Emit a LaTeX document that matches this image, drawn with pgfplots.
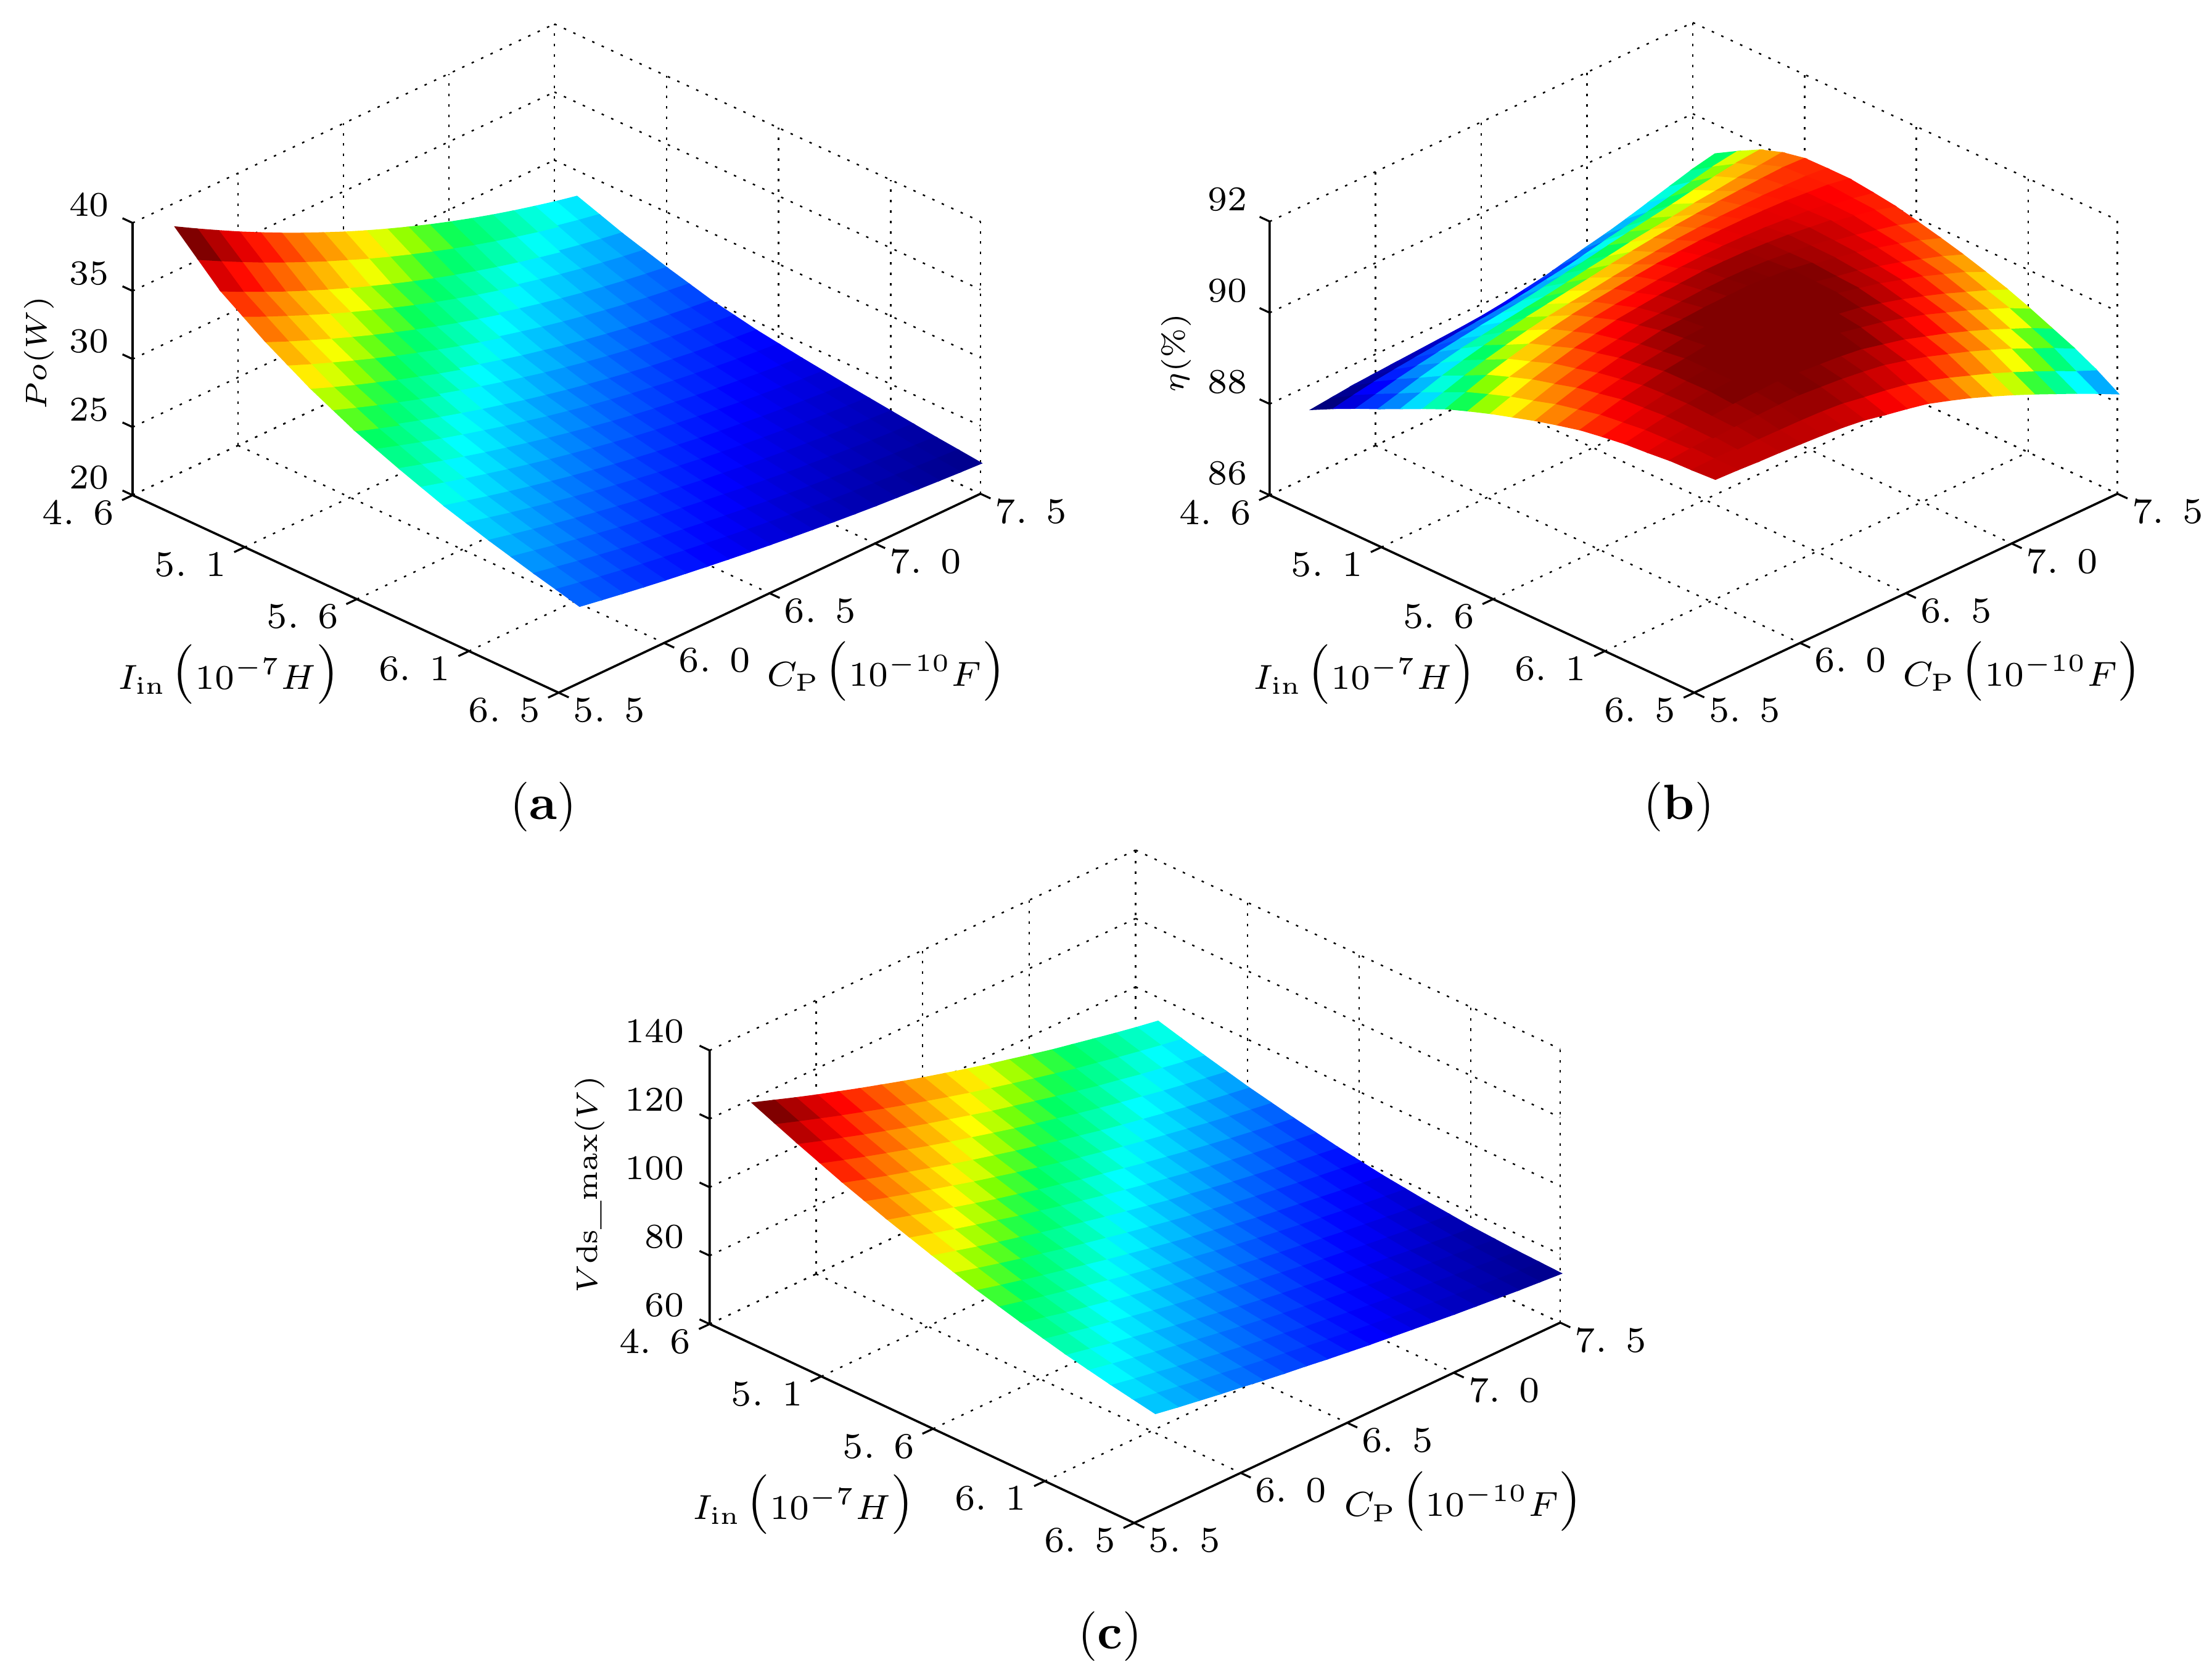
\documentclass[border=0pt]{standalone}
\usepackage{pgfplots}
\usepackage{pgfplotstable}
\pgfplotsset{compat=1.18}

\pgfplotstableread{
I C Po Eta Vds
4.7 5.6 39.70 87.90 124.7
4.7 5.7 38.82 87.95 122.5
4.7 5.8 37.97 88.00 120.3
4.7 5.9 37.14 88.03 118.2
4.7 6.0 36.35 88.06 116.2
4.7 6.1 35.59 88.09 114.2
4.7 6.2 34.86 88.12 112.3
4.7 6.3 34.16 88.15 110.4
4.7 6.4 33.48 88.19 108.6
4.7 6.5 32.84 88.25 106.9
4.7 6.6 32.23 88.33 105.2
4.7 6.7 31.65 88.41 103.6
4.7 6.8 31.09 88.52 102.1
4.7 6.9 30.57 88.63 100.6
4.7 7.0 30.08 88.73 99.1
4.7 7.1 29.62 88.85 97.8
4.7 7.2 29.19 88.98 96.5
4.7 7.3 28.79 89.11 95.2
4.7 7.4 28.41 89.24 94.0
4.7 7.5 28.07 89.34 92.9
4.8 5.6 38.15 88.15 121.95
4.8 5.7 37.33 88.24 119.8
4.8 5.8 36.54 88.32 117.7
4.8 5.9 35.77 88.38 115.65
4.8 6.0 35.04 88.43 113.7
4.8 6.1 34.34 88.48 111.75
4.8 6.2 33.66 88.53 109.9
4.8 6.3 33.02 88.58 108.1
4.8 6.4 32.39 88.63 106.35
4.8 6.5 31.80 88.70 104.65
4.8 6.6 31.24 88.78 103.05
4.8 6.7 30.71 88.85 101.5
4.8 6.8 30.20 88.95 100.0
4.8 6.9 29.73 89.05 98.55
4.8 7.0 29.28 89.14 97.1
4.8 7.1 28.87 89.24 95.85
4.8 7.2 28.48 89.34 94.55
4.8 7.3 28.12 89.45 93.35
4.8 7.4 27.79 89.55 92.2
4.8 7.5 27.49 89.62 91.1
4.9 5.6 36.60 88.38 119.2
4.9 5.7 35.84 88.49 117.1
4.9 5.8 35.11 88.60 115.1
4.9 5.9 34.40 88.69 113.1
4.9 6.0 33.73 88.77 111.2
4.9 6.1 33.08 88.84 109.3
4.9 6.2 32.46 88.91 107.5
4.9 6.3 31.87 88.97 105.8
4.9 6.4 31.30 89.03 104.1
4.9 6.5 30.76 89.11 102.4
4.9 6.6 30.24 89.19 100.9
4.9 6.7 29.76 89.27 99.4
4.9 6.8 29.31 89.36 97.9
4.9 6.9 28.88 89.44 96.5
4.9 7.0 28.48 89.52 95.1
4.9 7.1 28.11 89.60 93.9
4.9 7.2 27.76 89.69 92.6
4.9 7.3 27.45 89.77 91.5
4.9 7.4 27.16 89.84 90.4
4.9 7.5 26.90 89.88 89.3
5.0 5.6 35.50 88.60 116.6
5.0 5.7 34.78 88.73 114.55
5.0 5.8 34.10 88.86 112.6
5.0 5.9 33.43 88.97 110.7
5.0 6.0 32.79 89.07 108.85
5.0 6.1 32.18 89.14 107.0
5.0 6.2 31.60 89.22 105.25
5.0 6.3 31.04 89.29 103.6
5.0 6.4 30.50 89.35 101.95
5.0 6.5 29.99 89.43 100.35
5.0 6.6 29.51 89.51 98.85
5.0 6.7 29.06 89.58 97.4
5.0 6.8 28.64 89.66 95.95
5.0 6.9 28.24 89.72 94.6
5.0 7.0 27.87 89.78 93.3
5.0 7.1 27.52 89.85 92.1
5.0 7.2 27.20 89.90 90.85
5.0 7.3 26.91 89.96 89.75
5.0 7.4 26.64 90.00 88.7
5.0 7.5 26.40 90.05 87.65
5.1 5.6 34.40 88.83 114.0
5.1 5.7 33.72 88.98 112.0
5.1 5.8 33.08 89.13 110.1
5.1 5.9 32.45 89.25 108.3
5.1 6.0 31.85 89.36 106.5
5.1 6.1 31.27 89.45 104.7
5.1 6.2 30.73 89.54 103.0
5.1 6.3 30.20 89.61 101.4
5.1 6.4 29.70 89.68 99.8
5.1 6.5 29.22 89.75 98.3
5.1 6.6 28.78 89.83 96.8
5.1 6.7 28.36 89.90 95.4
5.1 6.8 27.96 89.96 94.0
5.1 6.9 27.59 90.01 92.7
5.1 7.0 27.25 90.05 91.5
5.1 7.1 26.93 90.09 90.3
5.1 7.2 26.63 90.12 89.1
5.1 7.3 26.36 90.15 88.0
5.1 7.4 26.12 90.17 87.0
5.1 7.5 25.90 90.15 86.0
5.2 5.6 33.45 89.06 111.65
5.2 5.7 32.81 89.21 109.75
5.2 5.8 32.20 89.36 107.9
5.2 5.9 31.61 89.49 106.15
5.2 6.0 31.04 89.60 104.4
5.2 6.1 30.50 89.70 102.65
5.2 6.2 29.98 89.79 101.05
5.2 6.3 29.48 89.86 99.45
5.2 6.4 29.01 89.92 97.95
5.2 6.5 28.56 89.99 96.45
5.2 6.6 28.14 90.05 95.05
5.2 6.7 27.75 90.10 93.7
5.2 6.8 27.37 90.15 92.35
5.2 6.9 27.03 90.18 91.1
5.2 7.0 26.71 90.20 89.9
5.2 7.1 26.41 90.21 88.75
5.2 7.2 26.13 90.22 87.6
5.2 7.3 25.88 90.21 86.55
5.2 7.4 25.65 90.20 85.55
5.2 7.5 25.45 90.16 84.6
5.3 5.6 32.50 89.28 109.3
5.3 5.7 31.89 89.44 107.5
5.3 5.8 31.31 89.60 105.7
5.3 5.9 30.76 89.73 104.0
5.3 6.0 30.22 89.85 102.3
5.3 6.1 29.72 89.95 100.6
5.3 6.2 29.22 90.04 99.1
5.3 6.3 28.76 90.11 97.5
5.3 6.4 28.32 90.17 96.1
5.3 6.5 27.90 90.23 94.6
5.3 6.6 27.50 90.28 93.3
5.3 6.7 27.14 90.31 92.0
5.3 6.8 26.78 90.34 90.7
5.3 6.9 26.46 90.35 89.5
5.3 7.0 26.16 90.35 88.3
5.3 7.1 25.88 90.34 87.2
5.3 7.2 25.62 90.32 86.1
5.3 7.3 25.39 90.28 85.1
5.3 7.4 25.18 90.24 84.1
5.3 7.5 25.00 90.16 83.2
5.4 5.6 31.70 89.46 107.15
5.4 5.7 31.13 89.62 105.4
5.4 5.8 30.58 89.78 103.65
5.4 5.9 30.06 89.90 102.0
5.4 6.0 29.56 90.02 100.4
5.4 6.1 29.08 90.12 98.75
5.4 6.2 28.62 90.21 97.3
5.4 6.3 28.19 90.27 95.8
5.4 6.4 27.77 90.32 94.4
5.4 6.5 27.38 90.37 93.0
5.4 6.6 27.00 90.41 91.7
5.4 6.7 26.66 90.43 90.4
5.4 6.8 26.33 90.44 89.2
5.4 6.9 26.03 90.43 88.0
5.4 7.0 25.75 90.41 86.85
5.4 7.1 25.49 90.37 85.8
5.4 7.2 25.25 90.33 84.75
5.4 7.3 25.04 90.27 83.8
5.4 7.4 24.84 90.20 82.85
5.4 7.5 24.68 90.10 81.95
5.5 5.6 30.90 89.63 105.0
5.5 5.7 30.37 89.79 103.3
5.5 5.8 29.85 89.95 101.6
5.5 5.9 29.36 90.08 100.0
5.5 6.0 28.89 90.20 98.5
5.5 6.1 28.44 90.29 96.9
5.5 6.2 28.01 90.38 95.5
5.5 6.3 27.61 90.43 94.1
5.5 6.4 27.21 90.48 92.7
5.5 6.5 26.85 90.52 91.4
5.5 6.6 26.50 90.55 90.1
5.5 6.7 26.18 90.55 88.8
5.5 6.8 25.88 90.54 87.7
5.5 6.9 25.60 90.51 86.5
5.5 7.0 25.33 90.47 85.4
5.5 7.1 25.10 90.41 84.4
5.5 7.2 24.87 90.35 83.4
5.5 7.3 24.68 90.26 82.5
5.5 7.4 24.50 90.17 81.6
5.5 7.5 24.35 90.03 80.7
5.6 5.6 30.25 89.78 103.0
5.6 5.7 29.75 89.93 101.35
5.6 5.8 29.26 90.08 99.75
5.6 5.9 28.80 90.20 98.2
5.6 6.0 28.36 90.32 96.75
5.6 6.1 27.94 90.40 95.25
5.6 6.2 27.53 90.49 93.85
5.6 6.3 27.15 90.53 92.5
5.6 6.4 26.78 90.57 91.15
5.6 6.5 26.44 90.60 89.9
5.6 6.6 26.11 90.61 88.65
5.6 6.7 25.81 90.60 87.45
5.6 6.8 25.53 90.57 86.35
5.6 6.9 25.27 90.52 85.2
5.6 7.0 25.02 90.46 84.15
5.6 7.1 24.80 90.38 83.2
5.6 7.2 24.59 90.29 82.25
5.6 7.3 24.41 90.18 81.35
5.6 7.4 24.24 90.07 80.5
5.6 7.5 24.10 89.92 79.65
5.7 5.6 29.60 89.93 101.0
5.7 5.7 29.13 90.08 99.4
5.7 5.8 28.67 90.22 97.9
5.7 5.9 28.24 90.33 96.4
5.7 6.0 27.82 90.44 95.0
5.7 6.1 27.43 90.52 93.6
5.7 6.2 27.05 90.60 92.2
5.7 6.3 26.69 90.63 90.9
5.7 6.4 26.35 90.66 89.6
5.7 6.5 26.03 90.67 88.4
5.7 6.6 25.72 90.68 87.2
5.7 6.7 25.44 90.65 86.1
5.7 6.8 25.18 90.61 85.0
5.7 6.9 24.94 90.53 83.9
5.7 7.0 24.70 90.45 82.9
5.7 7.1 24.49 90.35 82.0
5.7 7.2 24.31 90.24 81.1
5.7 7.3 24.13 90.11 80.2
5.7 7.4 23.98 89.97 79.4
5.7 7.5 23.85 89.80 78.6
5.8 5.6 29.00 90.06 99.25
5.8 5.7 28.56 90.19 97.75
5.8 5.8 28.13 90.32 96.25
5.8 5.9 27.73 90.42 94.85
5.8 6.0 27.34 90.52 93.5
5.8 6.1 26.97 90.59 92.15
5.8 6.2 26.61 90.66 90.8
5.8 6.3 26.28 90.68 89.55
5.8 6.4 25.96 90.70 88.35
5.8 6.5 25.66 90.70 87.2
5.8 6.6 25.37 90.69 86.05
5.8 6.7 25.11 90.64 84.95
5.8 6.8 24.86 90.59 83.9
5.8 6.9 24.64 90.49 82.9
5.8 7.0 24.42 90.40 81.95
5.8 7.1 24.22 90.28 81.05
5.8 7.2 24.05 90.15 80.2
5.8 7.3 23.89 90.00 79.35
5.8 7.4 23.75 89.85 78.55
5.8 7.5 23.63 89.67 77.8
5.9 5.6 28.40 90.18 97.5
5.9 5.7 27.99 90.30 96.1
5.9 5.8 27.59 90.42 94.6
5.9 5.9 27.21 90.51 93.3
5.9 6.0 26.85 90.60 92.0
5.9 6.1 26.50 90.66 90.7
5.9 6.2 26.17 90.72 89.4
5.9 6.3 25.86 90.73 88.2
5.9 6.4 25.56 90.74 87.1
5.9 6.5 25.28 90.73 86.0
5.9 6.6 25.02 90.71 84.9
5.9 6.7 24.78 90.64 83.8
5.9 6.8 24.54 90.57 82.8
5.9 6.9 24.33 90.46 81.9
5.9 7.0 24.14 90.35 81.0
5.9 7.1 23.95 90.21 80.1
5.9 7.2 23.79 90.07 79.3
5.9 7.3 23.65 89.90 78.5
5.9 7.4 23.51 89.73 77.7
5.9 7.5 23.40 89.52 77.0
6.0 5.6 27.90 90.26 95.9
6.0 5.7 27.52 90.36 94.55
6.0 5.8 27.14 90.46 93.15
6.0 5.9 26.79 90.54 91.9
6.0 6.0 26.45 90.61 90.65
6.0 6.1 26.12 90.66 89.4
6.0 6.2 25.81 90.71 88.2
6.0 6.3 25.52 90.71 87.05
6.0 6.4 25.24 90.70 85.95
6.0 6.5 24.98 90.68 84.9
6.0 6.6 24.73 90.65 83.85
6.0 6.7 24.50 90.56 82.85
6.0 6.8 24.28 90.48 81.9
6.0 6.9 24.08 90.36 81.0
6.0 7.0 23.90 90.23 80.15
6.0 7.1 23.73 90.08 79.3
6.0 7.2 23.57 89.92 78.5
6.0 7.3 23.43 89.74 77.75
6.0 7.4 23.31 89.56 77.0
6.0 7.5 23.20 89.36 76.35
6.1 5.6 27.40 90.33 94.3
6.1 5.7 27.04 90.42 93.0
6.1 5.8 26.69 90.50 91.7
6.1 5.9 26.36 90.56 90.5
6.1 6.0 26.04 90.62 89.3
6.1 6.1 25.74 90.66 88.1
6.1 6.2 25.45 90.70 87.0
6.1 6.3 25.17 90.68 85.9
6.1 6.4 24.92 90.66 84.8
6.1 6.5 24.67 90.63 83.8
6.1 6.6 24.43 90.59 82.8
6.1 6.7 24.22 90.49 81.9
6.1 6.8 24.01 90.39 81.0
6.1 6.9 23.83 90.26 80.1
6.1 7.0 23.66 90.12 79.3
6.1 7.1 23.50 89.95 78.5
6.1 7.2 23.34 89.78 77.7
6.1 7.3 23.21 89.59 77.0
6.1 7.4 23.10 89.40 76.3
6.1 7.5 23.00 89.17 75.7
6.2 5.6 26.95 90.37 92.95
6.2 5.7 26.62 90.44 91.7
6.2 5.8 26.29 90.50 90.5
6.2 5.9 25.98 90.54 89.3
6.2 6.0 25.68 90.58 88.2
6.2 6.1 25.39 90.60 87.05
6.2 6.2 25.12 90.62 86.0
6.2 6.3 24.86 90.60 84.95
6.2 6.4 24.62 90.56 83.95
6.2 6.5 24.39 90.52 82.95
6.2 6.6 24.17 90.46 82.05
6.2 6.7 23.96 90.35 81.15
6.2 6.8 23.77 90.24 80.3
6.2 6.9 23.59 90.09 79.45
6.2 7.0 23.43 89.94 78.7
6.2 7.1 23.28 89.77 77.95
6.2 7.2 23.14 89.59 77.2
6.2 7.3 23.01 89.39 76.55
6.2 7.4 22.90 89.19 75.9
6.2 7.5 22.80 88.96 75.3
6.3 5.6 26.50 90.42 91.6
6.3 5.7 26.19 90.46 90.4
6.3 5.8 25.88 90.49 89.3
6.3 5.9 25.59 90.52 88.1
6.3 6.0 25.31 90.54 87.1
6.3 6.1 25.04 90.55 86.0
6.3 6.2 24.79 90.55 85.0
6.3 6.3 24.55 90.51 84.0
6.3 6.4 24.32 90.47 83.1
6.3 6.5 24.10 90.41 82.1
6.3 6.6 23.90 90.34 81.3
6.3 6.7 23.70 90.22 80.4
6.3 6.8 23.53 90.09 79.6
6.3 6.9 23.35 89.93 78.8
6.3 7.0 23.20 89.77 78.1
6.3 7.1 23.05 89.59 77.4
6.3 7.2 22.93 89.40 76.7
6.3 7.3 22.80 89.19 76.1
6.3 7.4 22.70 88.98 75.5
6.3 7.5 22.60 88.75 74.9
6.4 5.6 26.08 90.44 90.4
6.4 5.7 25.79 90.45 89.25
6.4 5.8 25.50 90.45 88.2
6.4 5.9 25.23 90.46 87.1
6.4 6.0 24.97 90.45 86.15
6.4 6.1 24.73 90.44 85.1
6.4 6.2 24.49 90.42 84.15
6.4 6.3 24.27 90.38 83.25
6.4 6.4 24.05 90.30 82.35
6.4 6.5 23.85 90.23 81.45
6.4 6.6 23.66 90.14 80.65
6.4 6.7 23.47 90.01 79.85
6.4 6.8 23.31 89.86 79.1
6.4 6.9 23.14 89.69 78.35
6.4 7.0 23.00 89.52 77.65
6.4 7.1 22.86 89.33 77.0
6.4 7.2 22.74 89.13 76.35
6.4 7.3 22.62 88.92 75.75
6.4 7.4 22.52 88.70 75.2
6.4 7.5 22.43 88.50 74.65
6.5 5.6 25.65 90.47 89.2
6.5 5.7 25.38 90.45 88.1
6.5 5.8 25.12 90.42 87.1
6.5 5.9 24.87 90.40 86.1
6.5 6.0 24.63 90.37 85.2
6.5 6.1 24.41 90.34 84.2
6.5 6.2 24.19 90.30 83.3
6.5 6.3 23.98 90.24 82.5
6.5 6.4 23.78 90.14 81.6
6.5 6.5 23.59 90.05 80.8
6.5 6.6 23.41 89.95 80.0
6.5 6.7 23.24 89.80 79.3
6.5 6.8 23.08 89.64 78.6
6.5 6.9 22.93 89.46 77.9
6.5 7.0 22.79 89.27 77.2
6.5 7.1 22.67 89.07 76.6
6.5 7.2 22.55 88.86 76.0
6.5 7.3 22.44 88.65 75.4
6.5 7.4 22.34 88.43 74.9
6.5 7.5 22.25 88.20 74.4
}\surfdata

\newcommand{\frameaxis}[3]{%
  \draw[black,line width=0.45pt] (axis cs:4.6,5.5,#2) -- (axis cs:4.6,5.5,#1) -- (axis cs:6.5,5.5,#1) -- (axis cs:6.5,7.5,#1);
  \pgfplotsinvokeforeach{4.6,5.1,5.6,6.1,6.5}{\draw[black,line width=0.4pt] (axis cs:##1,5.5,#1) -- (axis cs:##1,5.45,#1);}
  \pgfplotsinvokeforeach{5.5,6.0,6.5,7.0,7.5}{\draw[black,line width=0.4pt] (axis cs:6.5,##1,#1) -- (axis cs:6.545,##1,#1);}
  \pgfplotsinvokeforeach{#3}{\draw[black,line width=0.4pt] (axis cs:4.6,5.5,##1) -- (axis cs:4.555,5.5,##1);}
}
\newcommand{\bigparen}[1]{{\fontsize{12}{12}\selectfont #1}}

\pgfplotsset{
  colormap={matjet}{rgb255=(0,0,128) rgb255=(0,0,190) rgb255=(0,0,255) rgb255=(0,64,255) rgb255=(0,128,255) rgb255=(0,192,255) rgb255=(0,255,255) rgb255=(0,255,160) rgb255=(0,255,96) rgb255=(128,255,0) rgb255=(255,255,0) rgb255=(255,190,0) rgb255=(255,128,0) rgb255=(255,64,0) rgb255=(255,0,0) rgb255=(192,0,0) rgb255=(128,0,0)},
  surfaxis/.style={
    anchor=south west,
    clip=false,
    xmin=4.6, xmax=6.5, ymin=5.5, ymax=7.5,
    xtick={4.6,5.1,5.6,6.1,6.5},
    ytick={5.5,6.0,6.5,7.0,7.5},
    xticklabels={4. 6,5. 1,5. 6,6. 1,6. 5},
    yticklabels={5. 5,6. 0,6. 5,7. 0,7. 5},
    grid=major,
    major grid style={black, line width=0.3pt, dash pattern=on 0.5pt off 1.6pt},
    axis line style={draw=none},
    tick align=outside,
    major tick length=3pt,
    tick style={draw=none},
    tick label style={font=\fontsize{7.3}{9}\selectfont},
    xticklabel style={xshift=-0.10cm,yshift=0.22cm},
    yticklabel style={xshift=0.07cm,yshift=0.22cm},
    colormap name=matjet,
    xlabel={$I_{\mathrm{in}}$\,\bigparen{(}$10^{-7}H$\bigparen{)}},
    ylabel={$C_{\mathrm{P}}$\,\bigparen{(}$10^{-10}F$\bigparen{)}},
    every axis x label/.style={at={(rel axis cs:0.563,-0.342,0)},anchor=center,font=\fontsize{7.2}{9}\selectfont},
    every axis y label/.style={at={(rel axis cs:1.334,0.438,0)},anchor=center,font=\fontsize{7.2}{9}\selectfont},
  },
  surfplot/.style={surf, shader=flat corner, z buffer=sort, mesh/rows=20, mesh/cols=19, mesh/ordering=y varies},
}

\begin{document}
\begin{tikzpicture}
\path[use as bounding box] (0,0) rectangle (15.68,11.87);

\begin{axis}[surfaxis,
  at={(0.94cm,6.96cm)},
  x={(1.5895cm,-0.7368cm)}, y={(1.495cm,0.705cm)}, z={(0cm,0.0965cm)},
  zmin=20, zmax=40, ztick={20,25,30,35,40},
  zticklabel style={anchor=east,xshift=0.05cm,yshift=0.17cm},
  zlabel={$Po(W)$},
  every axis z label/.style={at={(rel axis cs:-0.11,-0.11,0.523)},rotate=90,anchor=center,font=\fontsize{6.4}{8}\selectfont},
]
\addplot3[surfplot] table[x=I,y=C,z=Po] {\surfdata};
\frameaxis{20}{40}{20,25,30,35,40}
\end{axis}

\begin{axis}[surfaxis,
  at={(9.0cm,6.96cm)},
  x={(1.584cm,-0.7368cm)}, y={(1.5cm,0.705cm)}, z={(0cm,0.3233cm)},
  zmin=86, zmax=92, ztick={86,88,90,92},
  zticklabel style={anchor=east,xshift=0.06cm,yshift=0.20cm},
  zlabel={$\eta(\%)$},
  every axis z label/.style={at={(rel axis cs:-0.11,-0.11,0.52)},rotate=90,anchor=center,font=\fontsize{6.4}{8}\selectfont},
]
\addplot3[surfplot, point meta min=87.9, point meta max=90.62] table[x=I,y=C,z=Eta] {\surfdata};
\frameaxis{86}{92}{86,88,90,92}
\end{axis}

\begin{axis}[surfaxis,
  at={(5.03cm,1.075cm)},
  x={(1.584cm,-0.742cm)}, y={(1.51cm,0.71cm)}, z={(0cm,0.02425cm)},
  zmin=60, zmax=140, ztick={60,80,100,120,140},
  zticklabel style={anchor=east,xshift=0.04cm,yshift=0.18cm},
  zlabel={$V\mathrm{ds\_max}(V)$},
  every axis z label/.style={at={(rel axis cs:-0.141,-0.141,0.51)},rotate=90,anchor=center,font=\fontsize{6.4}{8}\selectfont},
]
\addplot3[surfplot] table[x=I,y=C,z=Vds] {\surfdata};
\frameaxis{60}{140}{60,80,100,120,140}
\end{axis}

\node[font=\fontsize{10}{12}\selectfont] at (3.85,6.15) {(\textbf{a})};
\node[font=\fontsize{10}{12}\selectfont] at (11.9,6.15) {(\textbf{b})};
\node[font=\fontsize{10}{12}\selectfont] at (7.87,0.27) {(\textbf{c})};
\end{tikzpicture}
\end{document}
